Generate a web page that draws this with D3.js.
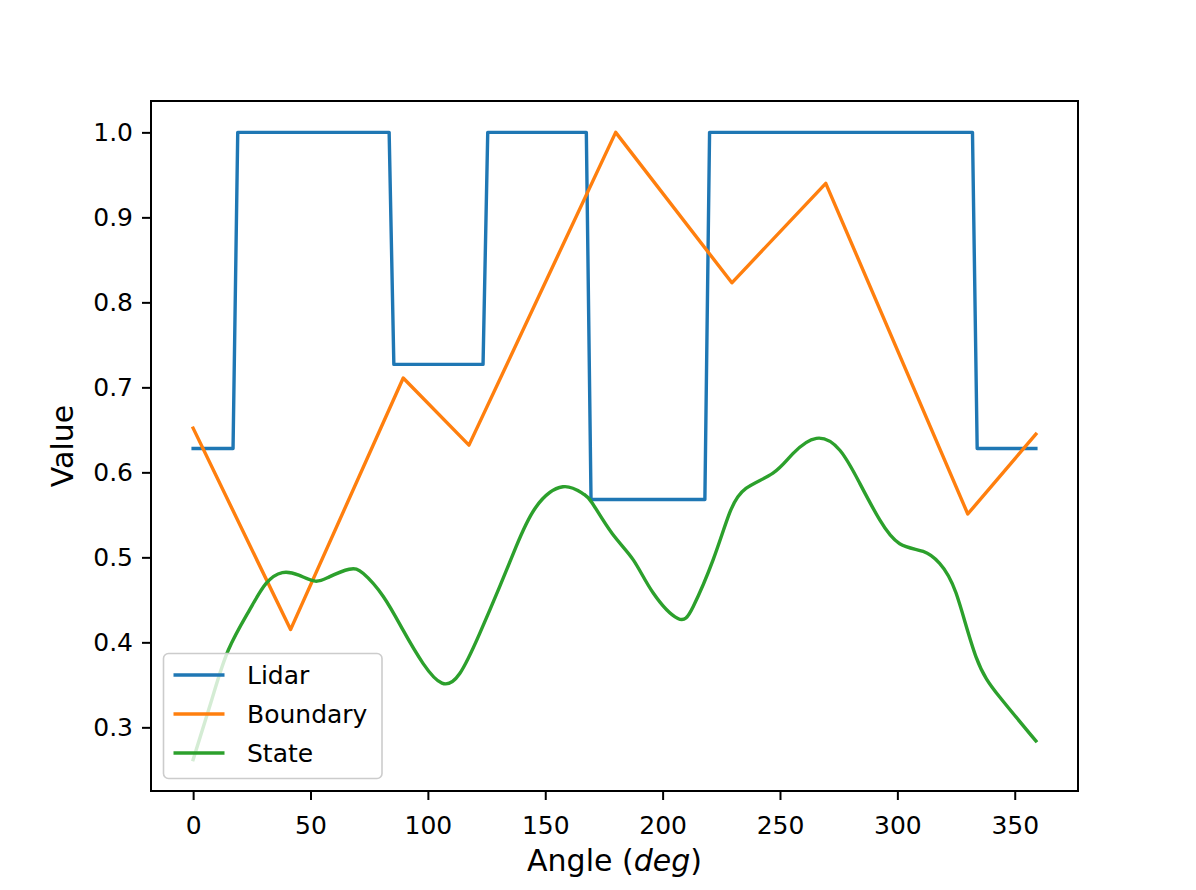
<!DOCTYPE html>
<html>
<head>
<meta charset="utf-8">
<script src="https://cdn.jsdelivr.net/npm/d3@7"></script>
<style>
  body { margin: 0; background: #fff; }
  svg { display: block; font-family: "DejaVu Sans", sans-serif; }
</style>
</head>
<body>
<div id="chart"></div>
<script>
// series
const lidarAngles = [0, 17, 19, 83.5, 85.5, 123.5, 125.5, 167.5, 169.5, 218, 220, 332, 334, 359];
const lidarValues = [0.628, 0.628, 1.0, 1.0, 0.727, 0.727, 1.0, 1.0, 0.568, 0.568, 1.0, 1.0, 0.628, 0.628];

const boundaryAngles = [0, 41.5, 89.5, 117.5, 180, 229.5, 269.5, 330, 359];
const boundaryValues = [0.652, 0.415, 0.711, 0.632, 1.0, 0.823, 0.940, 0.551, 0.645];

const stateAngles = [0, 8, 15, 24, 31, 38, 45, 52, 58, 66.5, 72.5, 81, 89.5, 98, 106, 113.5, 122, 130.5,
  137.5, 146, 157.5, 166, 170, 178.5, 187.5, 196, 206.5, 213, 221.5, 228.5, 235.5, 247, 255.5, 265.5,
  275.5, 284, 292.5, 301, 311, 318, 325, 333.5, 343.5, 359];
const stateValues = [0.262, 0.333, 0.391, 0.438, 0.469, 0.482, 0.479, 0.472, 0.477, 0.486, 0.481, 0.454,
  0.414, 0.375, 0.352, 0.363, 0.410, 0.465, 0.512, 0.559, 0.583, 0.575, 0.564, 0.528, 0.497, 0.458,
  0.428, 0.442, 0.497, 0.552, 0.581, 0.599, 0.622, 0.640, 0.626, 0.587, 0.544, 0.516, 0.507, 0.493,
  0.458, 0.383, 0.336, 0.284];

const seriesNames = ["Lidar", "Boundary", "State"];
const seriesColors = ["#1f77b4", "#ff7f0e", "#2ca02c"];

const xTicks = [0, 50, 100, 150, 200, 250, 300, 350];
const yTicks = [0.3, 0.4, 0.5, 0.6, 0.7, 0.8, 0.9, 1.0];

var W = 1196,
  H = 890,
  plotL = 151,
  plotR = 1078,
  plotT = 101,
  plotB = 791;

const zip = (xs, ys) => xs.map((x, i) => [x, ys[i]]);
var series = [
  zip(lidarAngles, lidarValues),
  zip(boundaryAngles, boundaryValues),
  zip(stateAngles, stateValues)
];

// matplotlib style 5% margins
function padded(vals) {
  var lo = d3.min(vals), hi = d3.max(vals), m = (hi - lo) * 0.05;
  return [lo - m, hi + m];
}
var allX = lidarAngles.concat(boundaryAngles, stateAngles);
var allY = lidarValues.concat(boundaryValues, stateValues);

var x = d3.scaleLinear().domain(padded(allX)).range([plotL, plotR]);
var y = d3.scaleLinear().domain(padded(allY)).range([plotB, plotT]);

var svg = d3.select("#chart")
  .append("svg")
  .attr("width", W)
  .attr("height", H);

svg.append("rect")
  .attr("width", W)
  .attr("height", H)
  .attr("fill", "#fff");

var line = d3.line()
  .x(d => x(d[0]))
  .y(d => y(d[1]));

var curves = [d3.curveLinear, d3.curveLinear, d3.curveNatural];

svg.append("g")
  .selectAll("path")
  .data(series)
  .enter()
  .append("path")
  .attr("d", (d, i) => line.curve(curves[i])(d))
  .attr("fill", "none")
  .attr("stroke", (d, i) => seriesColors[i])
  .attr("stroke-width", 3.4)
  .attr("stroke-linejoin", "round")
  .attr("stroke-linecap", "square");

// axes
var xAxis = svg.append("g")
  .attr("transform", `translate(0,${plotB})`)
  .call(d3.axisBottom(x).tickValues(xTicks).tickSize(9).tickSizeOuter(0).tickPadding(8).tickFormat(d3.format("d")));

var yAxis = svg.append("g")
  .attr("transform", `translate(${plotL},0)`)
  .call(d3.axisLeft(y).tickValues(yTicks).tickSize(9).tickSizeOuter(0).tickPadding(9).tickFormat(d3.format(".1f")));

[xAxis, yAxis].forEach(g => {
  g.select(".domain").remove();
  g.selectAll(".tick line").attr("stroke", "#000").attr("stroke-width", 2);
  g.selectAll(".tick text")
    .attr("fill", "#000")
    .style("font-family", "DejaVu Sans")
    .style("font-size", "25px");
});
xAxis.selectAll(".tick text").attr("dy", null).attr("y", 43);

svg.append("rect")
  .attr("x", plotL)
  .attr("y", plotT)
  .attr("width", plotR - plotL)
  .attr("height", plotB - plotT)
  .attr("fill", "none")
  .attr("stroke", "#000")
  .attr("stroke-width", 2);

// axis labels
var xl = svg.append("text")
  .attr("x", (plotL + plotR) / 2)
  .attr("y", 871)
  .attr("text-anchor", "middle")
  .style("font-size", "30px")
  .attr("fill", "#000");
xl.append("tspan").text("Angle (");
xl.append("tspan").style("font-style", "italic").text("deg");
xl.append("tspan").text(")");

svg.append("text")
  .attr("transform", `translate(73,${(plotT + plotB) / 2}) rotate(-90)`)
  .attr("text-anchor", "middle")
  .style("font-size", "30px")
  .attr("fill", "#000")
  .text("Value");

// legend
var lg = svg.append("g").attr("transform", "translate(163.5,653.5)");
lg.append("rect")
  .attr("width", 218.5)
  .attr("height", 125)
  .attr("rx", 5)
  .attr("fill", "#fff")
  .attr("fill-opacity", 0.8)
  .attr("stroke", "#cccccc")
  .attr("stroke-width", 1.6);

var item = lg.selectAll("g.item")
  .data(seriesNames)
  .enter()
  .append("g")
  .attr("class", "item")
  .attr("transform", (d, i) => `translate(0,${21.5 + i * 39})`);

item.append("line")
  .attr("x1", 10)
  .attr("x2", 61)
  .attr("stroke", (d, i) => seriesColors[i])
  .attr("stroke-width", 3.4);

item.append("text")
  .attr("x", 83.5)
  .attr("dy", "0.35em")
  .style("font-size", "25px")
  .attr("fill", "#000")
  .text(d => d);
</script>
</body>
</html>
